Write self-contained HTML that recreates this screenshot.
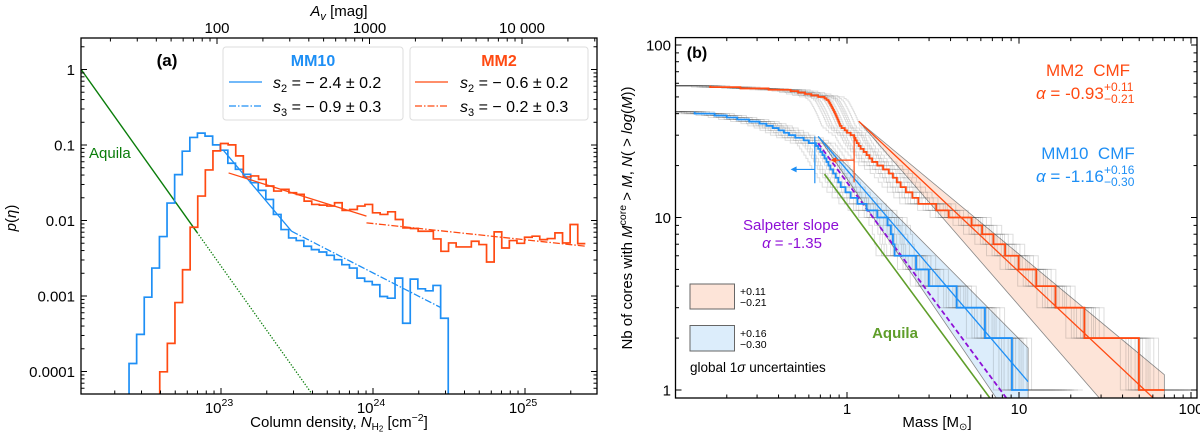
<!DOCTYPE html>
<html><head><meta charset="utf-8"><style>
html,body{margin:0;padding:0;background:#fff;width:1200px;height:436px;overflow:hidden;}
svg{display:block;font-family:"Liberation Sans","DejaVu Sans",sans-serif;}
</style></head><body>
<svg id="fig" width="1200" height="436" viewBox="0 0 1200 436" xmlns="http://www.w3.org/2000/svg">
<defs>
<clipPath id="clipA"><rect x="81" y="38" width="516" height="356"/></clipPath>
<clipPath id="clipB"><rect x="675.5" y="37.6" width="521.5" height="360.4"/></clipPath>
</defs>
<g id="panelA"></g>
<g id="panelB"></g>
<g>
<text x="339" y="16" font-size="15" text-anchor="middle"><tspan font-style="italic">A</tspan><tspan font-style="italic" font-size="11" dy="4">v</tspan><tspan dy="-4"> [mag]</tspan></text>
<text x="339" y="427" font-size="15" text-anchor="middle">Column density, <tspan font-style="italic">N</tspan><tspan font-size="10" dy="3">H</tspan><tspan font-size="8" dy="1.5">2</tspan><tspan dy="-4.5"> [cm</tspan><tspan font-size="10.5" dy="-6">−2</tspan><tspan dy="6">]</tspan></text>
<text transform="translate(16,218) rotate(-90)" font-size="15" text-anchor="middle"><tspan font-style="italic">p</tspan>(<tspan font-style="italic">η</tspan>)</text>
<text x="167" y="66" font-size="17" font-weight="bold" text-anchor="middle">(a)</text>
<text x="89" y="158" font-size="15" fill="#0a7d0a">Aquila</text>
<g>
<rect x="223" y="47" width="180" height="73" rx="3" fill="#fff" fill-opacity="0.85" stroke="#ddd"/>
<text x="313" y="66" font-size="16" font-weight="bold" fill="#1e8ff5" text-anchor="middle">MM10</text>
<line x1="229" y1="82" x2="262" y2="82" stroke="#1e8ff5" stroke-width="1.3"/>
<line x1="229" y1="106" x2="262" y2="106" stroke="#1e8ff5" stroke-width="1.3" stroke-dasharray="7,2,1.5,2"/>
<text x="273" y="88" font-size="16"><tspan font-style="italic">s</tspan><tspan font-size="11" dy="4">2</tspan><tspan dy="-4"> = − 2.4 ± 0.2</tspan></text>
<text x="273" y="112" font-size="16"><tspan font-style="italic">s</tspan><tspan font-size="11" dy="4">3</tspan><tspan dy="-4"> = − 0.9 ± 0.3</tspan></text>
</g>
<g>
<rect x="410" y="47" width="178" height="73" rx="3" fill="#fff" fill-opacity="0.85" stroke="#ddd"/>
<text x="499" y="66" font-size="16" font-weight="bold" fill="#ff4a12" text-anchor="middle">MM2</text>
<line x1="415" y1="82" x2="448" y2="82" stroke="#ff4a12" stroke-width="1.3"/>
<line x1="415" y1="106" x2="448" y2="106" stroke="#ff4a12" stroke-width="1.3" stroke-dasharray="7,2,1.5,2"/>
<text x="460" y="88" font-size="16"><tspan font-style="italic">s</tspan><tspan font-size="11" dy="4">2</tspan><tspan dy="-4"> = − 0.6 ± 0.2</tspan></text>
<text x="460" y="112" font-size="16"><tspan font-style="italic">s</tspan><tspan font-size="11" dy="4">3</tspan><tspan dy="-4"> = − 0.2 ± 0.3</tspan></text>
</g>
<text x="697" y="58" font-size="16" font-weight="bold" text-anchor="middle">(b)</text>
<text x="937" y="427" font-size="15" text-anchor="middle">Mass [M<tspan font-size="10" dy="3">⊙</tspan><tspan dy="-3">]</tspan></text>
<text transform="translate(632,218) rotate(-90)" font-size="15" text-anchor="middle">Nb of cores with <tspan font-style="italic">M</tspan><tspan font-size="10.5" dy="-6">core</tspan><tspan dy="6"> &gt; </tspan><tspan font-style="italic">M</tspan>, <tspan font-style="italic">N</tspan>( &gt; <tspan font-style="italic">log</tspan>(<tspan font-style="italic">M</tspan>))</text>
<text x="1088" y="76" font-size="17" fill="#ff4a12" text-anchor="middle">MM2&#160;&#160;CMF</text>
<text x="1036" y="99" font-size="17" fill="#ff4a12"><tspan font-style="italic">α</tspan> = -0.93</text>
<text x="1104" y="91" font-size="12" fill="#ff4a12">+0.11</text>
<text x="1104" y="103" font-size="12" fill="#ff4a12">−0.21</text>
<text x="1088" y="159" font-size="17" fill="#1e8ff5" text-anchor="middle">MM10&#160;&#160;CMF</text>
<text x="1036" y="182" font-size="17" fill="#1e8ff5"><tspan font-style="italic">α</tspan> = -1.16</text>
<text x="1104" y="174" font-size="12" fill="#1e8ff5">+0.16</text>
<text x="1104" y="186" font-size="12" fill="#1e8ff5">−0.30</text>
<text x="791" y="230" font-size="15" fill="#8e0fd6" text-anchor="middle">Salpeter slope</text>
<text x="792" y="248" font-size="15" fill="#8e0fd6" text-anchor="middle"><tspan font-style="italic">α</tspan> = -1.35</text>
<text x="895" y="338" font-size="15" font-weight="bold" fill="#5f9e2a" text-anchor="middle">Aquila</text>
<g>
<rect x="690" y="284" width="44.5" height="25" fill="#fde4d8" stroke="#666"/>
<text x="740" y="295" font-size="10.5">+0.11</text>
<text x="740" y="306" font-size="10.5">−0.21</text>
</g>
<g>
<rect x="690" y="325.5" width="44.5" height="25.5" fill="#dcedfb" stroke="#666"/>
<text x="740" y="337" font-size="10.5">+0.16</text>
<text x="740" y="348" font-size="10.5">−0.30</text>
</g>
<text x="690" y="372" font-size="13.5">global 1<tspan font-style="italic">σ</tspan> uncertainties</text>
</g>
</svg>
<script>
// ---------- Panel (a) data ----------
const mm10BinStart = 22.395;
const mm10BinWidth = 0.05;
const mm10LogP = [-3.894,-3.508,-3.016,-2.630,-2.213,-1.769,-1.392,-1.082,-0.900,-0.843,-0.882,-0.998,-1.069,-1.242,-1.322,-1.388,-1.499,-1.601,-1.721,-1.920,-2.120,-2.231,-2.266,-2.341,-2.386,-2.417,-2.461,-2.519,-2.585,-2.630,-2.763,-2.807,-2.851,-3.007,-3.029,-2.763,-3.361,-2.776,-2.905,-2.931,-2.860,-3.295];
const mm2BinStart = 22.597;
const mm2BinWidth = 0.05;
const mm2LogP = [-4.004,-3.627,-3.087,-2.652,-2.089,-1.676,-1.330,-1.078,-0.980,-0.998,-1.144,-1.423,-1.410,-1.455,-1.543,-1.610,-1.588,-1.632,-1.654,-1.743,-1.787,-1.796,-1.809,-1.765,-1.867,-1.854,-1.809,-1.787,-1.898,-1.920,-1.885,-1.987,-2.098,-2.106,-2.142,-2.142,-2.244,-2.408,-2.297,-2.350,-2.350,-2.275,-2.319,-2.550,-2.151,-2.364,-2.266,-2.302,-2.222,-2.208,-2.253,-2.239,-2.164,-2.297,-2.053,-2.306];
const fitMM10s2 = [23.013, 23.464, -1.064, -2.39];
const fitMM10s3 = [23.464, 24.449, -2.142, -1.03];
const fitMM2s2 = [23.05, 23.957, -1.37, -0.63];
const fitMM2s3 = [23.957, 25.398, -2.031, -0.215];
const aquilaA = [22.08, 23.6, 0.0, -2.83, 22.842];
const xTicksA = [23, 24, 25];
const xTickLabelsA = ["23", "24", "25"];
const yTicksA = [0, -1, -2, -3, -4];
const yTickLabelsA = ["1", "0.1", "0.01", "0.001", "0.0001"];
const avTicks = [100, 1000, 10000];
const avTickLabels = ["100", "1000", "10 000"];

// ---------- Panel (b) data ----------
const mm2Masses = [70,49.8,24,16.3,12.6,9.95,8.3,7.1,6.1,5.3,3.9,3.3,2.6,2.4,2.2,2.05,1.95,1.85,1.75,1.62,1.5,1.4,1.35,1.3,1.25,1.2,1.17,1.14,1.12,1.1,1.05,1.0,0.97,0.93,0.91,0.90,0.89,0.88,0.87,0.86,0.85,0.84,0.83,0.82,0.81,0.80,0.79,0.78,0.76,0.74,0.68,0.62,0.57,0.52,0.47,0.35,0.24,0.16];
const mm10Masses = [11.3,9.1,6.34,4.34,2.99,2.52,1.89,1.85,1.80,1.72,1.5,1.3,1.15,1.05,0.98,0.92,0.89,0.86,0.83,0.80,0.78,0.76,0.74,0.72,0.70,0.68,0.66,0.60,0.56,0.50,0.46,0.43,0.40,0.37,0.34,0.31,0.27,0.23,0.20,0.17,0.13];
const fitMM2 = [1.17, 60, 1.622, -0.937, 0.11, 0.21];
const fitMM10 = [0.68, 11.3, 1.275, -1.165, 0.16, 0.30];
const salpeter = [0.68, 8.5, 1.204, -1.35];
const aquilaB = [0.74, 7, 1.075, -1.35];
const xTicksB = [1, 10, 100];
const xTickLabelsB = ["1", "10", "100"];
const yTicksB = [1, 10, 100];
const yTickLabelsB = ["1", "10", "100"];

const NS = "http://www.w3.org/2000/svg";
function mk(parent, tag, attrs, text) {
  const e = document.createElementNS(NS, tag);
  for (const k in attrs) e.setAttribute(k, attrs[k]);
  if (text !== undefined) e.textContent = text;
  parent.appendChild(e);
  return e;
}
const BLUE = "#1e8ff5", RED = "#ff4a12", DGREEN = "#0a7d0a", LGREEN = "#5f9e2a", PURPLE = "#8e0fd6";

// ---------- Panel (a) ----------
const A = document.getElementById("panelA");
const AL = 81, AR = 597, AT = 38, AB = 394;
const ax = v => 221 + 152 * (v - 23);
const ay = v => 69.5 - 75.5 * v;
const avx = v => 217 + 152.5 * (Math.log10(v) - 2);
const gA = mk(A, "g", {"clip-path": "url(#clipA)"});

function histPath(start, w, vals, dropEnd) {
  let d = "M" + ax(start) + "," + (AB + 3);
  vals.forEach((v, i) => {
    d += " L" + ax(start + i * w) + "," + Math.min(ay(v), AB + 3) + " L" + ax(start + (i + 1) * w) + "," + Math.min(ay(v), AB + 3);
  });
  if (dropEnd) d += " L" + ax(start + vals.length * w) + "," + (AB + 3);
  return d;
}
const aqS = mk(gA, "line", {x1: ax(aquilaA[0]), y1: ay(aquilaA[2]), x2: ax(aquilaA[4]), y2: ay(aquilaA[2] + aquilaA[3] * (aquilaA[4] - aquilaA[0])), stroke: DGREEN, "stroke-width": 1.4});


const aqD = mk(gA, "line", {x1: ax(aquilaA[4]), y1: ay(aquilaA[2] + aquilaA[3] * (aquilaA[4] - aquilaA[0])), x2: ax(aquilaA[1]), y2: ay(aquilaA[2] + aquilaA[3] * (aquilaA[1] - aquilaA[0])), stroke: DGREEN, "stroke-width": 1.3, "stroke-dasharray": "1.3,1.7"});



const h10 = mk(gA, "path", {d: histPath(mm10BinStart, mm10BinWidth, mm10LogP, true), fill: "none", stroke: BLUE, "stroke-width": 1.7});


const h2 = mk(gA, "path", {d: histPath(mm2BinStart, mm2BinWidth, mm2LogP, false), fill: "none", stroke: RED, "stroke-width": 1.7});



function fitLine(parent, f, color, dash, name) {
  const e = mk(parent, "line", {x1: ax(f[0]), y1: ay(f[2]), x2: ax(f[1]), y2: ay(f[2] + f[3] * (f[1] - f[0])), stroke: color, "stroke-width": 1.3});
  if (dash) e.setAttribute("stroke-dasharray", dash);
  
  
}
fitLine(gA, fitMM10s2, BLUE, null, "mm10-s2-fit");
fitLine(gA, fitMM10s3, BLUE, "7,2,1.5,2", "mm10-s3-fit");
fitLine(gA, fitMM2s2, RED, null, "mm2-s2-fit");
fitLine(gA, fitMM2s3, RED, "7,2,1.5,2", "mm2-s3-fit");

function frameTicks(parent, L, R, T, B) {
  mk(parent, "rect", {x: L, y: T, width: R - L, height: B - T, fill: "none", stroke: "#000", "stroke-width": 1.3});
}
frameTicks(A, AL, AR, AT, AB);
for (let dec = 22; dec <= 25; dec++) {
  for (let k = 1; k <= 9; k++) {
    const x = ax(dec + Math.log10(k));
    if (x < AL || x > AR) continue;
    const len = k === 1 ? 6 : 3.5;
    mk(A, "line", {x1: x, y1: AB, x2: x, y2: AB - len, stroke: "#000", "stroke-width": 1});
  }
}
for (let dec = 1; dec <= 5; dec++) {
  for (let k = 1; k <= 9; k++) {
    const x = avx(Math.pow(10, dec) * k);
    if (x < AL || x > AR) continue;
    const len = k === 1 ? 6 : 3.5;
    mk(A, "line", {x1: x, y1: AT, x2: x, y2: AT + len, stroke: "#000", "stroke-width": 1});
  }
}
for (let dec = -5; dec <= 0; dec++) {
  for (let k = 1; k <= 9; k++) {
    const y = ay(dec + Math.log10(k));
    if (y < AT || y > AB) continue;
    const len = k === 1 ? 6 : 3.5;
    mk(A, "line", {x1: AL, y1: y, x2: AL + len, y2: y, stroke: "#000", "stroke-width": 1});
    mk(A, "line", {x1: AR, y1: y, x2: AR - len, y2: y, stroke: "#000", "stroke-width": 1});
  }
}
xTicksA.forEach((v, i) => {
  const t = mk(A, "text", {x: ax(v) - 2, y: 413, "font-size": 15, "text-anchor": "middle"});
  
  
  mk(t, "tspan", {}, "10");
  mk(t, "tspan", {dy: -7, "font-size": 10.5}, xTickLabelsA[i]);
});
yTicksA.forEach((v, i) => {
  const t = mk(A, "text", {x: 75, y: ay(v) + 5.5, "font-size": 15, "text-anchor": "end"}, yTickLabelsA[i]);
  
  
});
avTicks.forEach((v, i) => {
  const t = mk(A, "text", {x: avx(v), y: 33, "font-size": 15, "text-anchor": "middle"}, avTickLabels[i]);
  
  
});

// ---------- Panel (b) ----------
const B = document.getElementById("panelB");
const BL = 675.5, BR = 1197, BT = 37.6, BB = 398;
const bx = m => 847 + 172 * Math.log10(m);
const by = n => 390 - 172.5 * Math.log10(n);
const gB = mk(B, "g", {"clip-path": "url(#clipB)"});
const LOG_FLOOR = -0.06; // log10 N just below the frame bottom

function band(f) {
  const ls = Math.log10(f[0]), le = Math.log10(f[1]);
  const y0 = f[2] + f[3] * ls;
  const up = f[3] + f[4], lo = f[3] - f[5];
  const pts = [[ls, y0]];
  const yUp = y0 + up * (le - ls);
  if (yUp >= LOG_FLOOR) { pts.push([le, yUp]); pts.push([le, LOG_FLOOR]); }
  else pts.push([ls + (LOG_FLOOR - y0) / up, LOG_FLOOR]);
  pts.push([ls + (LOG_FLOOR - y0) / lo, LOG_FLOOR]);
  return pts.map(p => (847 + 172 * p[0]) + "," + (390 - 172.5 * p[1])).join(" ");
}
const bandR = mk(gB, "polygon", {points: band([fitMM2[0], 70, fitMM2[2], fitMM2[3], fitMM2[4], fitMM2[5]]), fill: "#fde4d8", stroke: "#888", "stroke-width": 0.8});


const bandBl = mk(gB, "polygon", {points: band(fitMM10), fill: "#dcedfb", stroke: "#888", "stroke-width": 0.8});



function cmfPath(masses, factor, fromLeft, extend) {
  const n = masses.length;
  const m = masses.map(v => v * factor);
  let d = "M" + (fromLeft ? BL - 2 : bx(m[n - 1])) + "," + by(n);
  d += " H" + bx(m[n - 1]);
  for (let i = n - 1; i >= 1; i--) {
    d += " V" + by(i) + " H" + bx(m[i - 1]);
  }
  if (extend) d += " H" + Math.min(bx(m[0] * extend), BR + 2);
  return d;
}
const greyFactors = [0.78, 0.84, 0.9, 0.95, 1.05, 1.1, 1.16, 1.22, 1.3, 0.87, 1.13, 0.98, 1.02];
greyFactors.forEach(f => {
  const p1 = mk(gB, "path", {d: cmfPath(mm2Masses, f, true, 1.45), fill: "none", stroke: "#333", "stroke-opacity": 0.16, "stroke-width": 1});
  
  
  const p2 = mk(gB, "path", {d: cmfPath(mm10Masses, f, true, 1.6), fill: "none", stroke: "#333", "stroke-opacity": 0.16, "stroke-width": 1});
  
  
});

function powLine(f, color, w, dash, name) {
  const e = mk(gB, "line", {x1: bx(f[0]), y1: by(Math.pow(10, f[2] + f[3] * Math.log10(f[0]))), x2: bx(f[1]), y2: by(Math.pow(10, f[2] + f[3] * Math.log10(f[1]))), stroke: color, "stroke-width": w});
  if (dash) e.setAttribute("stroke-dasharray", dash);
  
  
}
powLine(aquilaB, LGREEN, 1.6, null, "aquila-cmf-line");
powLine(salpeter, PURPLE, 1.8, "5,3", "salpeter-line");

const c2 = mk(gB, "path", {d: cmfPath(mm2Masses, 1, false, 0), fill: "none", stroke: RED, "stroke-width": 1.8});


const c10 = mk(gB, "path", {d: cmfPath(mm10Masses, 1, false, 0), fill: "none", stroke: BLUE, "stroke-width": 1.8});


powLine(fitMM2, RED, 1.3, null, "mm2-cmf-fit");
powLine(fitMM10, BLUE, 1.3, null, "mm10-cmf-fit");

function compl(M, Mleft, n1, n2, nmid, color, name) {
  const g = mk(gB, "g", {stroke: color, "stroke-width": 1.2, fill: color});
  
  
  mk(g, "line", {x1: bx(M), y1: by(n1), x2: bx(M), y2: by(n2)});
  mk(g, "line", {x1: bx(M), y1: by(nmid), x2: bx(Mleft) + 4, y2: by(nmid)});
  const x = bx(Mleft), y = by(nmid);
  mk(g, "polygon", {points: `${x},${y} ${x + 6},${y - 3} ${x + 6},${y + 3}`, stroke: "none"});
}
compl(1.1, 0.8, 30, 16, 21.5, RED, "mm2-completeness-marker");
compl(0.65, 0.47, 29.5, 15.8, 19, BLUE, "mm10-completeness-marker");

frameTicks(B, BL, BR, BT, BB);
for (let dec = -1; dec <= 2; dec++) {
  for (let k = 1; k <= 9; k++) {
    const x = bx(Math.pow(10, dec) * k);
    if (x < BL || x > BR) continue;
    const len = k === 1 ? 6 : 3.5;
    mk(B, "line", {x1: x, y1: BB, x2: x, y2: BB - len, stroke: "#000", "stroke-width": 1});
    mk(B, "line", {x1: x, y1: BT, x2: x, y2: BT + len, stroke: "#000", "stroke-width": 1});
  }
}
for (let dec = 0; dec <= 2; dec++) {
  for (let k = 1; k <= 9; k++) {
    const y = by(Math.pow(10, dec) * k);
    if (y < BT || y > BB) continue;
    const len = k === 1 ? 6 : 3.5;
    mk(B, "line", {x1: BL, y1: y, x2: BL + len, y2: y, stroke: "#000", "stroke-width": 1});
    mk(B, "line", {x1: BR, y1: y, x2: BR - len, y2: y, stroke: "#000", "stroke-width": 1});
  }
}
xTicksB.forEach((v, i) => {
  const t = mk(B, "text", {x: bx(v), y: 414, "font-size": 15, "text-anchor": "middle"}, xTickLabelsB[i]);
  
  
});
yTicksB.forEach((v, i) => {
  const t = mk(B, "text", {x: 671, y: by(v) + 5.5, "font-size": 15, "text-anchor": "end"}, yTickLabelsB[i]);
  
  
});
</script>
</body></html>
